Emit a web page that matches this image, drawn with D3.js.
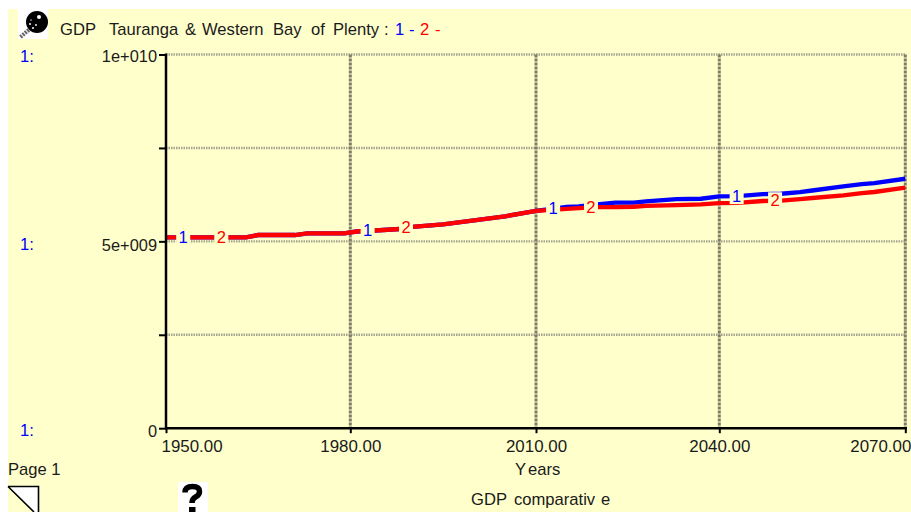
<!DOCTYPE html>
<html><head><meta charset="utf-8">
<script src="https://cdnjs.cloudflare.com/ajax/libs/d3/7.8.5/d3.min.js"></script>
<style>
html,body{margin:0;padding:0;background:#fff;overflow:hidden}
svg{display:block}
text{font-family:"Liberation Sans",Arial,sans-serif;font-size:16.6px;fill:#1a1a1a}
</style></head><body>
<svg id="c" width="911" height="512"></svg>
<script>
const years=[1950,1963,1965,1971,1973,1979,1981,1984,1988,1990,1995,2000,2005,2010,2015,2017,2020,2023,2026,2028,2033,2037,2040,2043,2047,2050,2053,2055,2060,2063,2065,2070];
const series1=[5.107,5.107,5.168,5.168,5.214,5.214,5.262,5.29,5.329,5.388,5.455,5.561,5.668,5.816,5.92,5.936,5.99,6.035,6.035,6.07,6.131,6.14,6.203,6.21,6.265,6.275,6.318,6.36,6.471,6.53,6.559,6.676];
const series2=[5.107,5.107,5.168,5.168,5.214,5.214,5.262,5.29,5.329,5.388,5.455,5.561,5.668,5.816,5.87,5.89,5.917,5.917,5.925,5.949,5.97,5.99,6.024,6.03,6.078,6.09,6.131,6.16,6.23,6.291,6.32,6.436];
const xTicks=[1950,1980,2010,2040,2070];
const yTicks=[0,2.5,5,7.5,10];
const yLabels={0:"0",5:"5e+009",10:"1e+010"};
const label1Years=[1952.8,1982.8,2012.8,2042.8];
const label2Years=[1959,1989,2019,2049];
const titleWords=["GDP","Tauranga","&","Western","Bay","of","Plenty",":"];
const legendWords=["1","-","2","-"];

const svg=d3.select("#c");
const x=d3.scaleLinear().domain(xTicks).range([166,350.3,536,719.3,905.3]);
const y=d3.scaleLinear().domain([0,10]).range([428.2,54.5]);
const BLUE="#0000ff",RED="#ff0000",BG="#ffffcc",INK="#1a1a1a";

svg.append("rect").attr("x",8).attr("y",9).attr("width",903).attr("height",503).attr("fill",BG);

// grid
yTicks.filter(d=>d>0).forEach(d=>{
  svg.append("line").attr("x1",x(1950)).attr("x2",906).attr("y1",y(d)).attr("y2",y(d))
    .attr("stroke","#a3a38e").attr("stroke-width",2.4).attr("stroke-dasharray","1.5 1");
});
xTicks.filter(d=>d>1950).forEach(d=>{
  svg.append("line").attr("x1",x(d)).attr("x2",x(d)).attr("y1",y(10)).attr("y2",y(0))
    .attr("stroke","#7d7d66").attr("stroke-width",3).attr("stroke-dasharray","3 1");
});

// lines
const line=d3.line().x((d,i)=>x(years[i])).y(d=>y(d));
svg.append("path").datum(series1).attr("d",line).attr("fill","none").attr("stroke",BLUE).attr("stroke-width",4.4);
svg.append("path").datum(series2).attr("d",line).attr("fill","none").attr("stroke",RED).attr("stroke-width",4.4);

// series number labels
const yAt=(arr,yr)=>d3.scaleLinear().domain(years).range(arr)(yr);
function lab(yrs,arr,txt,col){
  yrs.forEach(yr=>{
    const px=x(yr), base=y(yAt(arr,yr))+5.5;
    svg.append("rect").attr("x",px-7).attr("y",base-14).attr("width",14).attr("height",16.5).attr("fill",BG);
    svg.append("text").attr("x",px).attr("y",base).attr("text-anchor","middle").style("fill",col).text(txt);
  });
}
lab(label1Years,series1,"1",BLUE);
lab(label2Years,series2,"2",RED);

// axes
const ay=svg.append("g").attr("transform","translate(166,0)")
  .call(d3.axisLeft(y).tickValues(yTicks).tickSize(7).tickPadding(2).tickFormat(d=>yLabels[d]||""));
const ax=svg.append("g").attr("transform","translate(0,428.2)")
  .call(d3.axisBottom(x).tickValues(xTicks).tickSize(5).tickPadding(3).tickFormat(d=>d3.format(".2f")(d)));
[ay,ax].forEach(a=>{
  a.selectAll("path").attr("stroke","#000").attr("stroke-width",2.5).attr("d",null);
  a.selectAll("line").attr("stroke","#000").attr("stroke-width",2);
  a.selectAll("text").style("font-family",'"Liberation Sans",Arial,sans-serif').style("font-size","16.9px").style("fill",INK);
});
svg.append("line").attr("x1",x(1950)).attr("x2",x(1950)).attr("y1",y(10)-1).attr("y2",y(0)+1).attr("stroke","#000").attr("stroke-width",2.5);
svg.append("line").attr("x1",x(1950)).attr("x2",907).attr("y1",y(0)).attr("y2",y(0)).attr("stroke","#000").attr("stroke-width",2.5);
// tick labels sit where the reference puts them
const yLabelShift={0:7.8,5:9,10:7};
ay.selectAll("text").attr("dy",null).attr("y",d=>yLabelShift[d]||0).attr("x",-9).style("font-size","16.4px");
ax.selectAll("text").attr("dy",null).attr("y",23.6)
  .attr("text-anchor",d=>d===1950?"start":d===2070?"end":"middle");
ax.selectAll(".tick").filter(d=>d===1950).select("text").attr("x",-5);
ax.selectAll(".tick").filter(d=>d===2070).select("text").attr("x",5.5);

// left "1:" markers
[[10,7],[5,9],[0,7.8]].forEach(p=>{
  svg.append("text").attr("x",20).attr("y",y(p[0])+p[1]).style("fill",BLUE).text("1:");
});

// title: the reference spaces its words unevenly
const titleX=[60,109,185,202,273,311,333,384];
const t=svg.append("g");
titleWords.forEach((w,i)=>t.append("text").attr("x",titleX[i]).attr("y",35).text(w));
const legendX=[395,409,420,435];
legendWords.forEach((w,i)=>t.append("text").attr("x",legendX[i]).attr("y",35).style("fill",i<2?BLUE:RED).text(w));

svg.append("text").attr("x",8).attr("y",475).text("Page 1");
const yr=svg.append("g");
yr.append("text").attr("x",515).attr("y",475).text("Y");
yr.append("text").attr("x",528).attr("y",475).text("ears");
const gc=svg.append("g");
gc.append("text").attr("x",471).attr("y",505).text("GDP");
gc.append("text").attr("x",514).attr("y",505).text("comparativ");
gc.append("text").attr("x",601).attr("y",505).text("e");

// magnifier icon
const ic=svg.append("g");
ic.append("rect").attr("x",18).attr("y",9).attr("width",30).attr("height",30).attr("fill","#fff");
ic.append("line").attr("x1",20.5).attr("y1",37).attr("x2",31).attr("y2",28).attr("stroke","#666").attr("stroke-width",4).attr("stroke-dasharray","2 1");
ic.append("circle").attr("cx",37).attr("cy",22).attr("r",11).attr("fill","#000");
[[39,17,2],[30,24,1],[33,28,1],[36,25,.9],[31,20,.7]].forEach(p=>ic.append("circle").attr("cx",p[0]).attr("cy",p[1]).attr("r",p[2]).attr("fill","#fff"));

// help icon
svg.append("rect").attr("x",178).attr("y",482).attr("width",30).attr("height",30).attr("fill","#fff");
svg.append("path").attr("d","M185,492.5Q185,486.5 192.5,486.5Q199.5,486.5 199.5,491.5Q199.5,495 195.5,497Q192,498.8 192,503").attr("fill","none").attr("stroke","#000").attr("stroke-width",5.5);
svg.append("rect").attr("x",189).attr("y",507).attr("width",6.5).attr("height",5).attr("fill","#000");

// page corner
svg.append("path").attr("d","M8,486.5H38V512H34Z").attr("fill","#fff");
svg.append("path").attr("d","M8,486.5H38.5V512M8,486.5L34,512").attr("fill","none").attr("stroke","#000").attr("stroke-width",1.6);
</script></body></html>
